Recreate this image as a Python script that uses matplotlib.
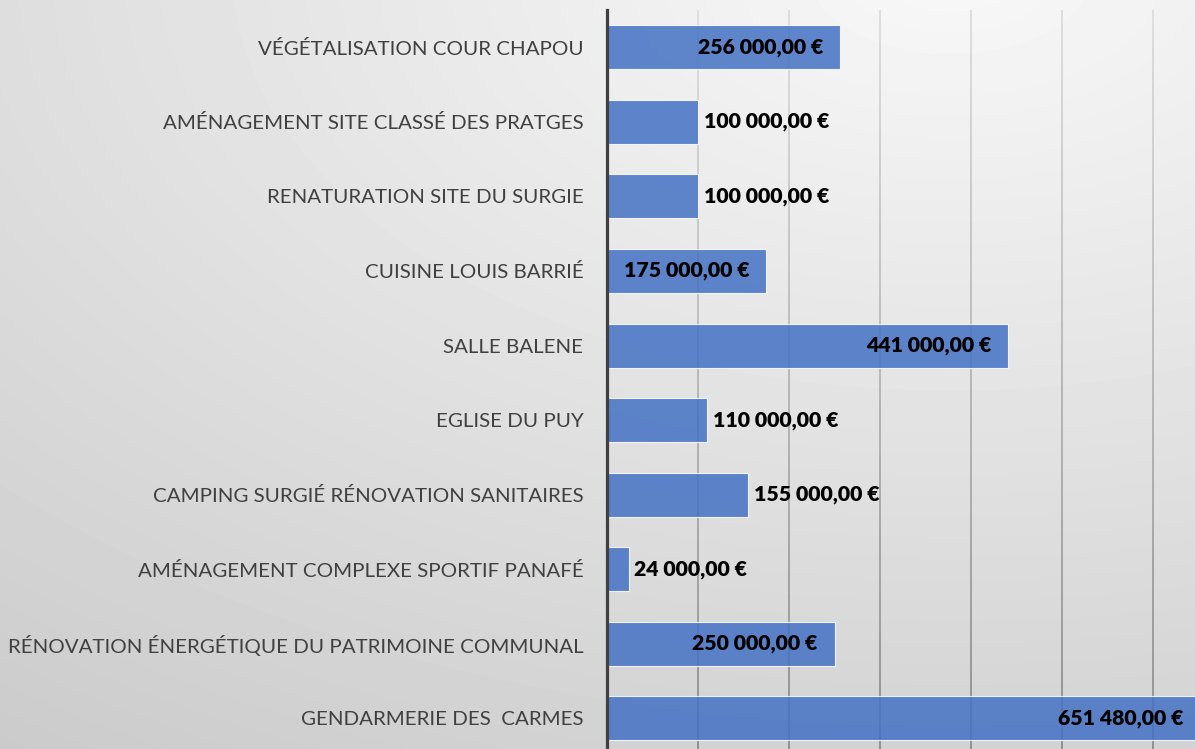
import matplotlib.pyplot as plt
import numpy as np
from matplotlib.collections import LineCollection

# data, top to bottom as in the chart
projects = [
    "VÉGÉTALISATION COUR CHAPOU",
    "AMÉNAGEMENT SITE CLASSÉ DES PRATGES",
    "RENATURATION SITE DU SURGIE",
    "CUISINE LOUIS BARRIÉ",
    "SALLE BALENE",
    "EGLISE DU PUY",
    "CAMPING SURGIÉ RÉNOVATION SANITAIRES",
    "AMÉNAGEMENT COMPLEXE SPORTIF PANAFÉ",
    "RÉNOVATION ÉNERGÉTIQUE DU PATRIMOINE COMMUNAL",
    "GENDARMERIE DES  CARMES",
]
amounts = [256000, 100000, 100000, 175000, 441000, 110000, 155000, 24000, 250000, 651480]
grid_ticks = [100000, 200000, 300000, 400000, 500000, 600000]

FONT = ["Lato", "DejaVu Sans"]
W, H = 1195, 749


def euro(v):
    s = f"{v:,.2f}".replace(",", " ").replace(".", ",")
    return s + " €"


fig = plt.figure(figsize=(W / 100, H / 100), dpi=100)

# background gradient over whole figure
bg = fig.add_axes([0, 0, 1, 1])
yy, xx = np.mgrid[0:H, 0:W]
d = np.sqrt(((xx - 950) / 1300.0) ** 2 + ((yy + 30) / 760.0) ** 2)
shade = np.clip(248 - 36 * d, 0, 255) / 255.0
bg.imshow(shade, cmap="gray", vmin=0, vmax=1, aspect="auto", interpolation="bilinear")
bg.axis("off")

ax = fig.add_axes([607 / W, 1 - 755.6 / H, 637 / W, 745.6 / H])
ax.patch.set_alpha(0)

y = np.arange(len(projects))

# gridlines, darker toward the bottom
n_seg = 60
edges = np.linspace(-0.5, 9.5, n_seg + 1)
segs, cols = [], []
for t in grid_ticks:
    for i in range(n_seg):
        segs.append([(t, edges[i]), (t, edges[i + 1])])
        frac = (edges[i] + 0.5) / 10
        g = 0.86 - 0.32 * frac
        cols.append((g, g, g))
ax.add_collection(LineCollection(segs, colors=cols, linewidths=1.3, zorder=1))

ax.barh(y, amounts, height=0.59, color="#4472C4", alpha=0.85,
        edgecolor=(1, 1, 1, 0.6), linewidth=0.8, zorder=2)

for yi, v in zip(y, amounts):
    if v >= 170000:
        ax.annotate(euro(v), (v, yi), xytext=(-12, 0), textcoords="offset points",
                    ha="right", va="center", fontsize=15.3, fontweight="heavy",
                    family=FONT, color="black", zorder=3)
    else:
        ax.annotate(euro(v), (v, yi), xytext=(4, 0), textcoords="offset points",
                    ha="left", va="center", fontsize=15.3, fontweight="heavy",
                    family=FONT, color="black", zorder=3)

ax.set_xlim(0, 700000)
ax.set_ylim(9.5, -0.5)
ax.set_yticks(y)
ax.set_yticklabels(projects, family=FONT, fontsize=14.75, color="#404040")
ax.tick_params(axis="y", length=0, pad=17)
ax.set_xticks([])

for side in ["top", "right", "bottom"]:
    ax.spines[side].set_visible(False)
ax.spines["left"].set_color("#404040")
ax.spines["left"].set_linewidth(2.3)
ax.spines["left"].set_zorder(4)

fig.savefig("out.png", dpi=100)
